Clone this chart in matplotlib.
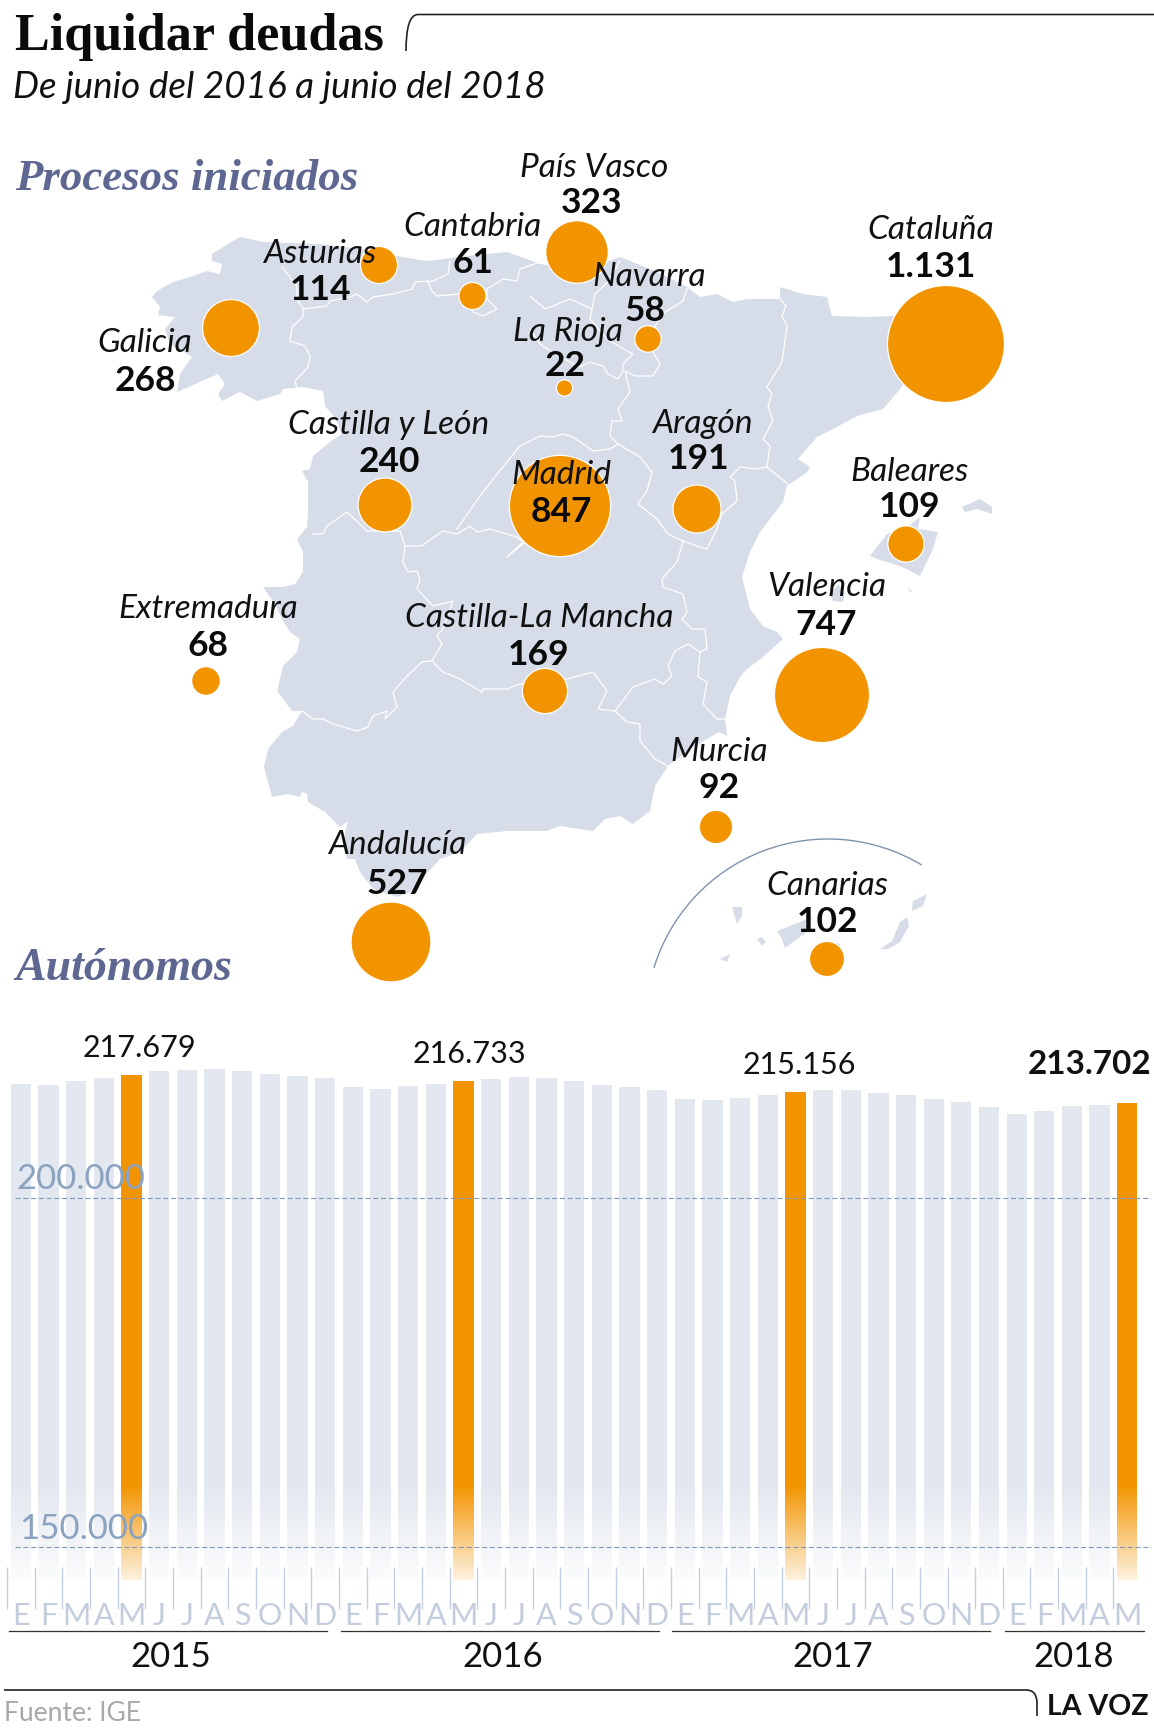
import numpy as np
import matplotlib
matplotlib.use('Agg')
import matplotlib.pyplot as plt
from matplotlib.patches import Arc, PathPatch, Polygon
from matplotlib.path import Path

W, H = 1154, 1733
ORANGE = '#f29400'
MAP = '#d6dce8'
BAR = '#e3e8f0'
plt.rcParams['font.family'] = ['Lato', 'DejaVu Sans']

# Data
regions = ['País Vasco', 'Cantabria', 'Asturias', 'Galicia', 'Navarra', 'La Rioja', 'Cataluña', 'Castilla y León', 'Madrid',
           'Aragón', 'Baleares', 'Valencia', 'Extremadura', 'Castilla-La Mancha', 'Murcia', 'Andalucía', 'Canarias']
processes = [323, 61, 114, 268, 58, 22, 1131, 240, 847, 191, 109, 747, 68, 169, 92, 527, 102]
process_labels = ['323', '61', '114', '268', '58', '22', '1.131', '240', '847', '191', '109', '747', '68', '169', '92', '527', '102']
# where each bubble sits on the map
bubble_x = [577, 472.5, 379, 231, 648, 564.5, 946, 385, 560, 697, 906, 822, 206, 545, 716, 391, 827]
bubble_y = [253, 297, 266, 329, 340, 389, 345, 506, 507, 510, 545, 696, 682, 692, 828, 943, 960]
name_x = [594, 472, 320, 145, 649, 568, 931, 389, 561.5, 702, 910, 827, 208, 539, 719, 397, 827]
name_y = [177, 236, 263, 352, 286, 341, 239, 434, 484, 433, 481, 596, 618, 627, 761, 854, 895]
value_x = [592, 472.5, 320, 145, 645.5, 565, 931, 389, 561.5, 699, 910, 826, 208, 539, 719, 397, 827]
value_y = [213, 273, 300, 391, 321, 376, 277, 472, 522, 469, 517, 635, 656, 665, 798, 894, 932]

months = list('EFMAMJJASOND') * 3 + list('EFMAM')
autonomos = [216410, 216276, 216745, 217214, 217679, 218285, 218420, 218486, 218285, 217816, 217482, 217281,
             215874, 215606, 216075, 216343, 216733, 217147, 217348, 217214, 216812, 216209, 215941, 215539,
             214200, 213999, 214334, 214803, 215156, 215539, 215472, 215137, 214803, 214267, 213731, 213061,
             212056, 212525, 213195, 213329, 213702]
highlighted = [4, 16, 28, 40]
highlight_x = [139.7, 469, 799, 1090]
highlight_base = [1057, 1063, 1074, 1074]
years = ['2015', '2016', '2017', '2018']
y_ticks = [200000, 150000]
y_tick_x = [16, 19]
y_tick_base = [1189, 1538.6]

# Map outlines, in pixels
coast = [(240, 238), (228, 245), (212, 255), (212, 262), (222, 265), (220, 275), (207, 272), (190, 278), (173, 283), (157, 292),
         (152, 298), (160, 308), (158, 316), (175, 318), (165, 330), (170, 345), (192, 358), (180, 375), (177, 393), (218, 375),
         (225, 385), (218, 395), (222, 402), (240, 393), (257, 402), (280, 395), (283, 390), (303, 388), (323, 392), (325, 407),
         (336, 420), (342, 435), (330, 443), (313, 457), (310, 470), (302, 472), (308, 483), (308, 513), (307, 528), (297, 540),
         (303, 553), (303, 573), (295, 585), (283, 588), (263, 588), (275, 605), (282, 620), (290, 633), (300, 640), (297, 653),
         (283, 667), (280, 680), (277, 692), (292, 712), (302, 712), (293, 727), (282, 733), (268, 750), (264, 768), (272, 798),
         (288, 795), (300, 798), (302, 793), (307, 795), (308, 803), (325, 813), (340, 828), (348, 822), (343, 843), (347, 860),
         (355, 860), (360, 873), (373, 890), (397, 898), (410, 893), (440, 860), (460, 853), (477, 835), (507, 832), (527, 832),
         (547, 832), (560, 827), (593, 832), (605, 820), (620, 817), (633, 825), (650, 812), (655, 787), (668, 767), (690, 750),
         (719, 733), (727, 737), (725, 720), (730, 697), (740, 678), (747, 670), (763, 658), (783, 640), (777, 633), (763, 627),
         (750, 610), (742, 578), (750, 553), (760, 533), (783, 503), (787, 487), (807, 473), (810, 468), (798, 460), (817, 438),
         (833, 430), (857, 417), (883, 410), (900, 390), (915, 370), (925, 340), (893, 317), (868, 318), (832, 317), (827, 298),
         (803, 295), (780, 288), (780, 300), (747, 300), (733, 303), (717, 295), (700, 298), (687, 288), (655, 272), (620, 258),
         (607, 263), (575, 270), (540, 265), (527, 260), (507, 253), (467, 257), (427, 262), (397, 257), (360, 250), (320, 245),
         (263, 243), (250, 240)]
islands = [
    [(870, 557), (887, 535), (905, 530), (920, 518), (918, 530), (938, 533), (933, 550), (920, 577), (900, 567), (877, 560)],
    [(962, 508), (980, 500), (992, 508), (992, 515), (977, 510), (965, 513)],
    [(830, 595), (838, 585), (845, 595), (843, 603), (833, 602)],
    [(908, 588), (912, 592), (910, 593)],
    [(732, 908), (742, 908), (742, 917), (737, 925)],
    [(757, 940), (762, 938), (766, 943), (762, 947)],
    [(720, 960), (730, 955), (727, 963)],
    [(777, 932), (800, 923), (812, 918), (807, 933), (797, 940), (785, 949), (782, 940)],
    [(815, 955), (827, 942), (840, 945), (840, 960), (827, 970)],
    [(907, 918), (909, 927), (900, 943), (888, 950), (880, 950), (892, 942), (900, 923)],
    [(927, 895), (923, 907), (912, 912), (913, 902)],
]
borders = [
    [(282, 268), (297, 287), (297, 300), (303, 310), (303, 318), (292, 328), (290, 342), (305, 347), (310, 357), (308, 368), (295, 382), (297, 390)],
    [(303, 310), (327, 307), (330, 302), (350, 298), (357, 295), (367, 303), (373, 298), (393, 295), (412, 290), (415, 283), (428, 282)],
    [(450, 262), (448, 275), (433, 282), (428, 283), (432, 292), (437, 297), (460, 295), (473, 313), (483, 317), (497, 310), (487, 300), (487, 290), (503, 280), (517, 282), (520, 270), (540, 263)],
    [(530, 297), (545, 310), (570, 300), (592, 310), (595, 295), (608, 283), (620, 262)],
    [(592, 310), (590, 320), (607, 340), (627, 352), (633, 355), (623, 365), (623, 372), (618, 380), (608, 375), (603, 367), (590, 363), (580, 368), (555, 355), (540, 345), (530, 330)],
    [(687, 290), (683, 302), (665, 313), (655, 327), (653, 353), (660, 365), (653, 377), (635, 377), (625, 372), (630, 393), (618, 410), (622, 422), (612, 422), (610, 437), (618, 445), (640, 458), (652, 473), (647, 492), (638, 505), (657, 520), (668, 535), (683, 542), (700, 548), (707, 550), (717, 530), (722, 515), (737, 502), (735, 482), (730, 478), (740, 468), (757, 470), (767, 468), (788, 485)],
    [(618, 445), (610, 450), (593, 452), (583, 445), (573, 438), (563, 435), (553, 438), (540, 437), (520, 447), (507, 463), (493, 480), (480, 497), (473, 507), (457, 530)],
    [(767, 468), (770, 447), (763, 440), (773, 422), (768, 407), (772, 395), (767, 388), (782, 363), (787, 327), (782, 317), (786, 307), (780, 300)],
    [(683, 542), (677, 563), (662, 580), (663, 588), (683, 595), (687, 613), (682, 620), (692, 630), (705, 630), (707, 650), (700, 653), (698, 678), (707, 683), (703, 705), (717, 720), (725, 720)],
    [(313, 535), (323, 535), (327, 527), (347, 513), (367, 532), (400, 532), (405, 547), (422, 547), (427, 543), (443, 532), (457, 535), (470, 527), (477, 533), (490, 530), (517, 538), (523, 543), (507, 558), (523, 545), (560, 530)],
    [(405, 547), (403, 563), (408, 573), (417, 572), (420, 580), (417, 590), (433, 607), (453, 602), (443, 630), (437, 637), (442, 645), (432, 662)],
    [(302, 712), (313, 720), (323, 720), (333, 725), (357, 732), (368, 728), (373, 717), (387, 712), (385, 720), (397, 708), (393, 693), (407, 677), (422, 663), (432, 662), (443, 673), (460, 680), (482, 693), (483, 690), (507, 690), (520, 685), (567, 680), (593, 673), (607, 692), (598, 710), (615, 712), (627, 723), (640, 725), (640, 742), (655, 760), (668, 767)],
    [(615, 712), (633, 688), (655, 680), (663, 685), (672, 677), (668, 667), (675, 652), (688, 645), (700, 653)],
]

fig = plt.figure(figsize=(W / 100, H / 100), dpi=100, facecolor='white')
ax = fig.add_axes([0, 0, 1, 1])
ax.set_xlim(0, W)
ax.set_ylim(H, 0)
ax.axis('off')

# Map
ax.add_patch(Polygon(coast, closed=True, fc=MAP, ec='none', zorder=1))
for isl in islands:
    ax.add_patch(Polygon(isl, closed=True, fc=MAP, ec='none', zorder=1))
for b in borders:
    b = np.array(b)
    ax.plot(b[:, 0], b[:, 1], color='white', lw=0.9, zorder=2, solid_joinstyle='round')
ax.add_patch(Arc((828, 1022), 364, 364, theta1=197, theta2=301, color='#7f93ad', lw=1.0, zorder=2))

# Bubbles, area follows the value
proc = np.array(processes, dtype=float)
radius = 58.5 * np.sqrt(proc / proc.max())
ax.scatter(bubble_x, bubble_y, s=(2 * radius * 0.72) ** 2, c=ORANGE, edgecolors='white', linewidths=0.9, zorder=3)
for i, name in enumerate(regions):
    ax.text(name_x[i], name_y[i], name, ha='center', va='baseline', fontsize=24, style='italic', color='#111111', zorder=4)
    ax.text(value_x[i], value_y[i], process_labels[i], ha='center', va='baseline', fontsize=25.5, weight='bold', color='#0a0a0a', zorder=4)

# Headings
ax.text(15, 50, 'Liquidar deudas', family='Liberation Serif', weight='bold', fontsize=37.6, color='#0a0a0a', va='baseline')
ax.text(13, 98, 'De junio del 2016 a junio del 2018', fontsize=26.5, style='italic', color='#111111', va='baseline')
ax.text(15, 190, 'Procesos iniciados', family='Liberation Serif', style='italic', weight='bold', fontsize=32.3, color='#5d6791', va='baseline')
ax.text(15, 980, 'Autónomos', family='Liberation Serif', style='italic', weight='bold', fontsize=33, color='#5d6791', va='baseline')

# Top and bottom rules
top_rule = Path([(406, 52), (406, 15.5), (418, 15.5), (W, 15.5)], [Path.MOVETO, Path.CURVE3, Path.CURVE3, Path.LINETO])
ax.add_patch(PathPatch(top_rule, fc='none', ec='#222222', lw=1.2))
bot_rule = Path([(4, 1691), (1026, 1691), (1037, 1691), (1037, 1704), (1037, 1717)],
                [Path.MOVETO, Path.LINETO, Path.CURVE3, Path.CURVE3, Path.LINETO])
ax.add_patch(PathPatch(bot_rule, fc='none', ec='#222222', lw=1.2))
ax.text(4, 1721, 'Fuente: IGE', fontsize=19, color='#a8a8a8', va='baseline')
ax.text(1047, 1715, 'LA VOZ', fontsize=20.5, color='#111111', weight='bold', va='baseline')

# Bars
PX_PER_UNIT = 6.98 / 1000
BAR_TOP_PX, BAR_BOTTOM_PX = 1020, 1581
def px_to_val(p):
    return 200000 - (p - 1199.2) / PX_PER_UNIT

step = 27.66
def px_to_x(p):
    return (p - 20.9) / step

ax_bar = fig.add_axes([0, 1 - BAR_BOTTOM_PX / H, 1, (BAR_BOTTOM_PX - BAR_TOP_PX) / H])
ax_bar.patch.set_alpha(0)
for s in ax_bar.spines.values():
    s.set_visible(False)
xs = np.arange(len(autonomos))
colors = [ORANGE if i in highlighted else BAR for i in xs]
foot = px_to_val(BAR_BOTTOM_PX)
ax_bar.bar(xs, np.array(autonomos) - foot, bottom=foot, width=20.3 / step, color=colors, zorder=1)

# fade to white at the foot of the bars
fade = np.ones((100, 2, 4))
fade[..., 3] = np.linspace(0, 0.88, 100)[:, None]
ax_bar.imshow(fade, extent=(px_to_x(0), px_to_x(W), foot, px_to_val(1486)), aspect='auto', zorder=2, interpolation='bilinear')
ax_bar.set_xlim(px_to_x(0), px_to_x(W))
ax_bar.set_ylim(foot, px_to_val(BAR_TOP_PX))

for v, tx, tb in zip(y_ticks, y_tick_x, y_tick_base):
    ax_bar.plot([px_to_x(15), px_to_x(1151)], [v, v], color='#7f97b8', lw=0.8, dashes=(4.5, 2.5), zorder=3)
    ax_bar.text(px_to_x(tx), px_to_val(tb), f'{v:,}'.replace(',', '.'), fontsize=25, color='#8ba2c0', va='baseline', ha='left', zorder=4)

ax_bar.vlines(xs - 0.5, px_to_val(1610), px_to_val(1568), color='#c5cfdf', lw=1.0, clip_on=False, zorder=3)
ax_bar.set_xticks(xs, months, fontsize=22, color='#c3cddd')
ax_bar.tick_params(axis='x', length=0, pad=15)
ax_bar.set_yticks([])

for n, i in enumerate(highlighted):
    last = i == highlighted[-1]
    label = f'{autonomos[i]:,}'.replace(',', '.')
    ax_bar.text(px_to_x(highlight_x[n]), px_to_val(highlight_base[n]), label, ha='center', va='baseline',
                fontsize=24 if last else 22, weight='bold' if last else 'normal', color='#111111', zorder=4)

# Year brackets
year_lines = [(9, 327), (341, 659), (672, 990), (1005, 1144)]
year_x = [170.7, 503, 833, 1073.5]
for (x0, x1), xc, yr in zip(year_lines, year_x, years):
    ax.plot([x0, x1], [1632, 1632], color='#333333', lw=0.9)
    ax.text(xc, 1667.5, yr, ha='center', va='baseline', fontsize=25, color='#111111')

fig.savefig('out.png', dpi=100)
